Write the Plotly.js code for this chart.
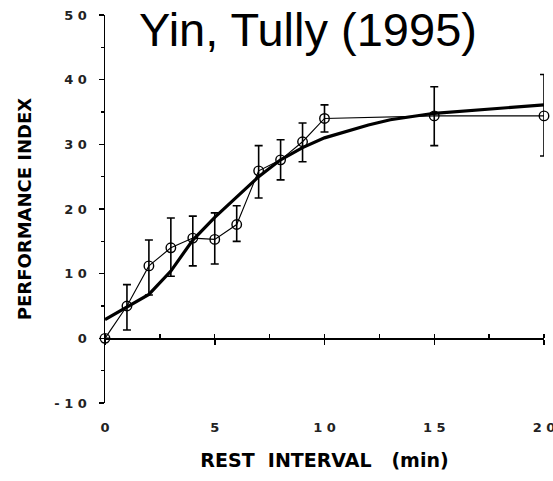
<!DOCTYPE html>
<html>
<head>
<meta charset="utf-8">
<script src="https://cdn.plot.ly/plotly-3.0.1.min.js"></script>
<style>html,body{margin:0;padding:0;background:#fff;}#chart{width:553px;height:481px;}</style>
</head>
<body>
<div id="chart"></div>
<script>
// Measured data (rest interval in min, performance index)
const restInterval = [0, 1, 2, 3, 4, 5, 6, 7, 8, 9, 10, 15, 20];
const perfIndex    = [0, 5.0, 11.2, 14.0, 15.5, 15.3, 17.6, 25.9, 27.6, 30.4, 34.0, 34.4, 34.4];
const errPlus      = [0, 3.3, 4.0, 4.6, 3.4, 4.1, 2.9, 3.9, 3.1, 2.9, 2.1, 4.5, 6.4];
const errMinus     = [0, 3.7, 4.5, 4.4, 4.3, 3.8, 2.6, 4.2, 3.1, 3.1, 2.1, 4.6, 6.2];

// Fitted curve (thick line)
const fitX = [0, 1, 2, 3, 4, 5, 6, 7, 8, 9, 10, 11, 12, 13, 14, 15, 20];
const fitY = [2.9, 4.9, 6.8, 10.4, 15.2, 18.7, 21.9, 25.0, 27.6, 29.5, 31.0, 32.0, 33.0, 33.8, 34.3, 34.8, 36.1];

// Tick labels
const yTickVals = [-10, 0, 10, 20, 30, 40, 50];
const yTickText = ['- 1 0', '0', '1 0', '2 0', '3 0', '4 0', '5 0'];
const xTickVals = [0, 5, 10, 15, 20];
const xTickText = ['0', '5', '1 0', '1 5', '2 0'];

const tickFont = {family: 'DejaVu Sans', size: 13, color: '#222', weight: 'bold'};

const traces = [
  {
    x: fitX, y: fitY, xaxis: 'x2', yaxis: 'y',
    mode: 'lines', line: {color: '#000', width: 3.2},
    hoverinfo: 'skip', showlegend: false, cliponaxis: false
  },
  {
    x: restInterval, y: perfIndex, xaxis: 'x', yaxis: 'y',
    mode: 'lines+markers',
    line: {color: '#000', width: 1.1},
    marker: {symbol: 'circle-open', size: 9.5, color: '#000', line: {width: 1.4}},
    error_y: {type: 'data', symmetric: false, array: errPlus, arrayminus: errMinus,
              color: '#000', thickness: 1.6, width: 4},
    showlegend: false, cliponaxis: false
  }
];

const layout = {
  width: 553, height: 481,
  margin: {l: 105, r: 9, t: 15, b: 78},
  paper_bgcolor: '#fff', plot_bgcolor: '#fff',
  font: {family: 'Liberation Sans', color: '#000'},
  showlegend: false,
  title: {
    text: 'Yin, Tully (1995)',
    font: {family: 'Liberation Sans', size: 47, color: '#000'},
    x: 308 / 553, xanchor: 'center', xref: 'container',
    y: 1 - 30 / 481, yanchor: 'middle', yref: 'container'
  },
  xaxis: {
    range: [0, 20], showgrid: false, zeroline: false, showline: false,
    tickmode: 'array', tickvals: xTickVals, ticktext: xTickText,
    ticks: '', ticklabelstandoff: 15, tickfont: tickFont, ticklabeloverflow: 'allow',
    title: {text: 'REST  INTERVAL   (min)', standoff: 19,
            font: {family: 'DejaVu Sans', size: 19, weight: 'bold', color: '#000'}},
    fixedrange: true
  },
  xaxis2: {
    overlaying: 'x', anchor: 'free', position: 1 / 6, side: 'bottom',
    range: [0, 20], showgrid: false, zeroline: false,
    showline: true, linecolor: '#000', linewidth: 1.5,
    tickmode: 'linear', tick0: 0, dtick: 5, ticks: 'outside', ticklen: 5, tickwidth: 1.5, tickcolor: '#000',
    minor: {tickmode: 'linear', tick0: 0, dtick: 2.5, ticks: 'inside', ticklen: 4, tickwidth: 1.3, tickcolor: '#000'},
    showticklabels: false, fixedrange: true
  },
  yaxis: {
    range: [-10, 50], showgrid: false, zeroline: false,
    showline: true, linecolor: '#000', linewidth: 1.5,
    tickmode: 'array', tickvals: yTickVals, ticktext: yTickText,
    ticks: 'outside', ticklen: 5, tickwidth: 1.5, tickcolor: '#000',
    minor: {tickmode: 'linear', tick0: 0, dtick: 5, ticks: 'outside', ticklen: 3, tickwidth: 1.2, tickcolor: '#000'},
    ticklabelstandoff: 9, tickfont: tickFont,
    title: {text: 'PERFORMANCE INDEX', standoff: 18,
            font: {family: 'DejaVu Sans', size: 18, weight: 'bold', color: '#000'}},
    fixedrange: true
  }
};

Plotly.newPlot('chart', traces, layout, {displayModeBar: false, staticPlot: true});
</script>
</body>
</html>
